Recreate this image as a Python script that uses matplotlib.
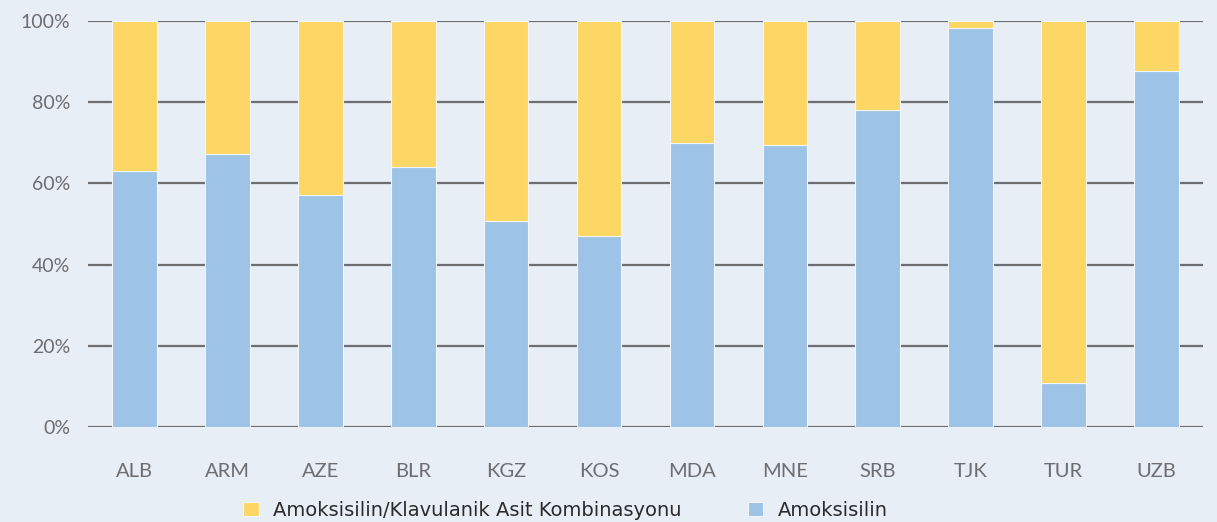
import matplotlib
matplotlib.use("Agg")
import matplotlib.pyplot as plt
import numpy as np
from matplotlib.ticker import FuncFormatter

countries = ["ALB", "ARM", "AZE", "BLR", "KGZ", "KOS", "MDA", "MNE", "SRB", "TJK", "TUR", "UZB"]
amoksisilin = [63.0, 67.2, 57.1, 64.0, 50.7, 47.0, 70.0, 69.5, 78.0, 98.3, 10.8, 87.7]
kombinasyon = [100 - v for v in amoksisilin]

label_komb = "Amoksisilin/Klavulanik Asit Kombinasyonu"
label_amok = "Amoksisilin"

# colors
bg = "#e8eef5"
c_yellow = "#fdd766"
c_blue = "#9dc3e6"
c_grid = "#6d6e71"
c_text = "#6d6e71"

fig = plt.figure(figsize=(12.17, 5.22), dpi=100, facecolor=bg)
ax = fig.add_axes([0.0723, 0.182, 0.9162, 0.778])
ax.set_facecolor(bg)

x = np.arange(len(countries))
w = 0.48
ax.bar(x, amoksisilin, width=w, color=c_blue, edgecolor="#f2f6fa", linewidth=0.8,
       label=label_amok, zorder=3)
ax.bar(x, kombinasyon, width=w, bottom=amoksisilin, color=c_yellow, edgecolor="#f2f6fa",
       linewidth=0.8, label=label_komb, zorder=3)

ax.set_xlim(-0.5, len(countries) - 0.5)
ax.set_ylim(0, 100)
ax.set_yticks([0, 20, 40, 60, 80, 100])
ax.yaxis.set_major_formatter(FuncFormatter(lambda v, p: f"{v:.0f}%"))
ax.grid(axis="y", color=c_grid, linewidth=1.6, zorder=0)
ax.set_axisbelow(True)
ax.set_xticks(x)
ax.set_xticklabels(countries)
ax.tick_params(axis="both", length=0, colors=c_text)
ax.tick_params(axis="x", pad=26, labelsize=14.5)
ax.tick_params(axis="y", pad=13, labelsize=14)
for lbl in ax.get_xticklabels() + ax.get_yticklabels():
    lbl.set_fontfamily("Lato")
for s in ax.spines.values():
    s.set_visible(False)

handles, labels = ax.get_legend_handles_labels()
fig.legend(handles[::-1], labels[::-1], loc="center left", bbox_to_anchor=(243 / 1217, 1 - 510 / 522),
           ncol=2, frameon=False, fontsize=14, handlelength=0.8, handleheight=0.7,
           borderpad=0, borderaxespad=0, columnspacing=3.4, handletextpad=0.75,
           labelcolor="#2b2b2b")

fig.savefig("out.png", dpi=100, facecolor=bg)
